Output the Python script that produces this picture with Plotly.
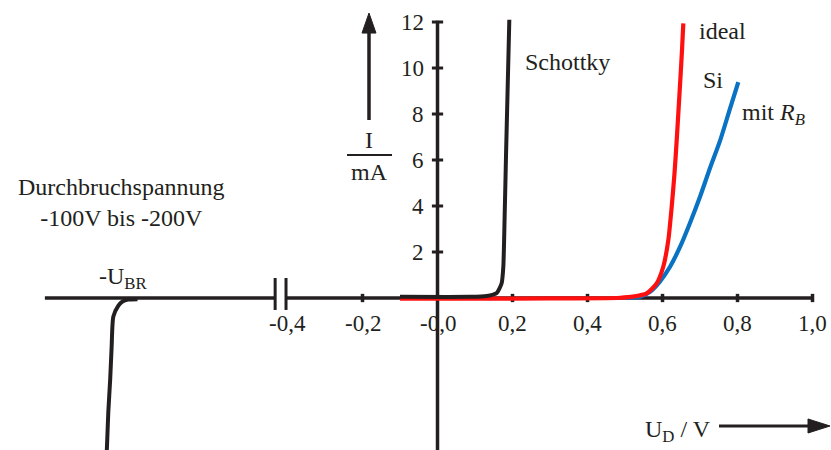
import plotly.graph_objects as go

# Diode characteristics: current I in mA vs. voltage U_D in V.
# The reverse (breakdown) branch left of the axis break is drawn on a
# compressed display scale (real breakdown lies at -100 V ... -200 V).

# Schottky diode
schottky_u = [-0.10, 0.087, 0.131, 0.158, 0.171, 0.1755, 0.179, 0.1827, 0.1915]
schottky_i = [0.05, 0.05, 0.09, 0.22, 0.64, 1.36, 3.53, 6.2, 12.1]

# Si diode, ideal
ideal_u = [-0.10, 0.10, 0.30, 0.45, 0.487, 0.521, 0.558, 0.5845, 0.602, 0.6155, 0.6245, 0.632, 0.6379, 0.6427, 0.6475, 0.652, 0.6555]
ideal_i = [-0.03, -0.03, -0.02, -0.01, 0.01, 0.06, 0.2, 0.64, 1.36, 2.52, 3.97, 5.42, 6.87, 8.17, 9.48, 10.78, 11.94]

# Si diode with bulk resistance R_B
rb_u = [0.50, 0.54, 0.567, 0.593, 0.62, 0.647, 0.673, 0.70, 0.7267, 0.7533, 0.7773, 0.8021]
rb_i = [0.0, 0.06, 0.27, 0.71, 1.36, 2.23, 3.25, 4.4, 5.65, 6.83, 8.09, 9.39]

# Breakdown branch (compressed display scale)
breakdown_u = [-0.80, -0.825, -0.840, -0.851, -0.8645, -0.869, -0.873, -0.878, -0.882]
breakdown_i = [-0.05, -0.07, -0.15, -0.33, -0.81, -2.12, -3.57, -5.0, -6.7]

# Axis ticks and labels
x_ticks = [-0.2, 0.2, 0.4, 0.6, 0.8, 1.0]
x_label_pos = [-0.4, -0.2, 0.0, 0.2, 0.4, 0.6, 0.8, 1.0]
x_label_text = ["-0,4", "-0,2", "-0,0", "0,2", "0,4", "0,6", "0,8", "1,0"]
y_ticks = [2, 4, 6, 8, 10, 12]
y_label_text = ["2", "4", "6", "8", "10", "12"]

INK = "#231F20"
RED = "#FF1010"
BLUE = "#0A72C2"
FONT = "Liberation Serif"

fig = go.Figure()

line_kw = dict(mode="lines", hoverinfo="skip", showlegend=False)
fig.add_trace(go.Scatter(x=rb_u, y=rb_i, line=dict(color=BLUE, width=4.2, shape="spline", smoothing=0.6), **line_kw))
fig.add_trace(go.Scatter(x=ideal_u, y=ideal_i, line=dict(color=RED, width=4.2, shape="spline", smoothing=0.6), **line_kw))
fig.add_trace(go.Scatter(x=schottky_u, y=schottky_i, line=dict(color=INK, width=4, shape="spline", smoothing=0.6), **line_kw))
fig.add_trace(go.Scatter(x=breakdown_u, y=breakdown_i, line=dict(color=INK, width=4, shape="spline", smoothing=0.6), **line_kw))

shapes = []
ax_w = 3.5
# horizontal axis with break
shapes.append(dict(type="line", x0=-1.047, x1=-0.433, y0=0, y1=0, line=dict(color=INK, width=ax_w), layer="below"))
shapes.append(dict(type="line", x0=-0.404, x1=1.0013, y0=0, y1=0, line=dict(color=INK, width=ax_w), layer="below"))
for xb in (-0.433, -0.404):
    shapes.append(dict(type="line", x0=xb, x1=xb, y0=0.87, y1=-0.52, line=dict(color=INK, width=3), layer="below"))
# vertical axis
shapes.append(dict(type="line", x0=0, x1=0, y0=12.06, y1=-6.7, line=dict(color=INK, width=ax_w), layer="below"))
# tick marks
for xt in x_ticks:
    shapes.append(dict(type="line", x0=xt, x1=xt, y0=0.18, y1=-0.18, line=dict(color=INK, width=3.5), layer="below"))
for yt in y_ticks:
    shapes.append(dict(type="line", x0=-0.015, x1=0.015, y0=yt, y1=yt, line=dict(color=INK, width=3), layer="below"))

# I / mA fraction bar and arrow
shapes.append(dict(type="line", x0=-0.2413, x1=-0.1213, y0=6.217, y1=6.217, line=dict(color=INK, width=2)))
shapes.append(dict(type="line", x0=-0.1827, x1=-0.1827, y0=7.74, y1=11.7, line=dict(color=INK, width=3.5)))
shapes.append(dict(type="path", path="M -0.2013,11.52 L -0.1827,12.39 L -0.1641,11.52 Z",
                   fillcolor=INK, line=dict(color=INK, width=1)))
# U_D / V arrow
shapes.append(dict(type="line", x0=0.7507, x1=0.995, y0=-5.565, y1=-5.565, line=dict(color=INK, width=3)))
shapes.append(dict(type="path", path="M 0.988,-5.26 L 1.0467,-5.565 L 0.988,-5.87 Z",
                   fillcolor=INK, line=dict(color=INK, width=1)))

ann = []
tick_font = dict(family=FONT, size=23, color=INK)
text_font = dict(family=FONT, size=24, color=INK)
for xp, txt in zip(x_label_pos, x_label_text):
    ann.append(dict(x=xp, y=0, text=txt, showarrow=False, xanchor="center", yanchor="middle",
                    yshift=-25, font=tick_font))
for yp, txt in zip(y_ticks, y_label_text):
    ann.append(dict(x=0, y=yp, text=txt, showarrow=False, xanchor="right", yanchor="middle",
                    xshift=-12, font=tick_font))

ann.append(dict(x=0.228, y=10.26, text="Schottky", showarrow=False, xanchor="left", yanchor="middle", font=text_font))
ann.append(dict(x=0.692, y=11.61, text="ideal", showarrow=False, xanchor="left", yanchor="middle", font=text_font))
ann.append(dict(x=0.7027, y=9.48, text="Si", showarrow=False, xanchor="left", yanchor="middle", font=text_font))
ann.append(dict(x=0.8067, y=8.0, text="mit <i>R<sub>B</sub></i>", showarrow=False, xanchor="left", yanchor="middle", font=text_font))
ann.append(dict(x=-0.844, y=4.17, text="Durchbruchspannung<br>-100V bis -200V", showarrow=False,
                xanchor="center", yanchor="middle", align="center", font=text_font))
ann.append(dict(x=-0.908, y=0.85, text="-U<sub>BR</sub>", showarrow=False, xanchor="left", yanchor="middle", font=text_font))
ann.append(dict(x=-0.1827, y=6.87, text="I", showarrow=False, xanchor="center", yanchor="middle", font=text_font))
ann.append(dict(x=-0.1827, y=5.48, text="mA", showarrow=False, xanchor="center", yanchor="middle", font=text_font))
ann.append(dict(x=0.548, y=-5.8, text="U<sub>D</sub> / V", showarrow=False, xanchor="left", yanchor="middle", font=text_font))

axis_kw = dict(showgrid=False, zeroline=False, showticklabels=False, ticks="", showline=False, fixedrange=True)
fig.update_layout(
    width=831, height=450,
    margin=dict(l=0, r=0, t=0, b=0),
    paper_bgcolor="white", plot_bgcolor="white",
    xaxis=dict(range=[-1.1667, 1.0493], **axis_kw),
    yaxis=dict(range=[-6.609, 12.957], **axis_kw),
    shapes=shapes, annotations=ann,
    showlegend=False,
)

fig.write_html("out.html")
